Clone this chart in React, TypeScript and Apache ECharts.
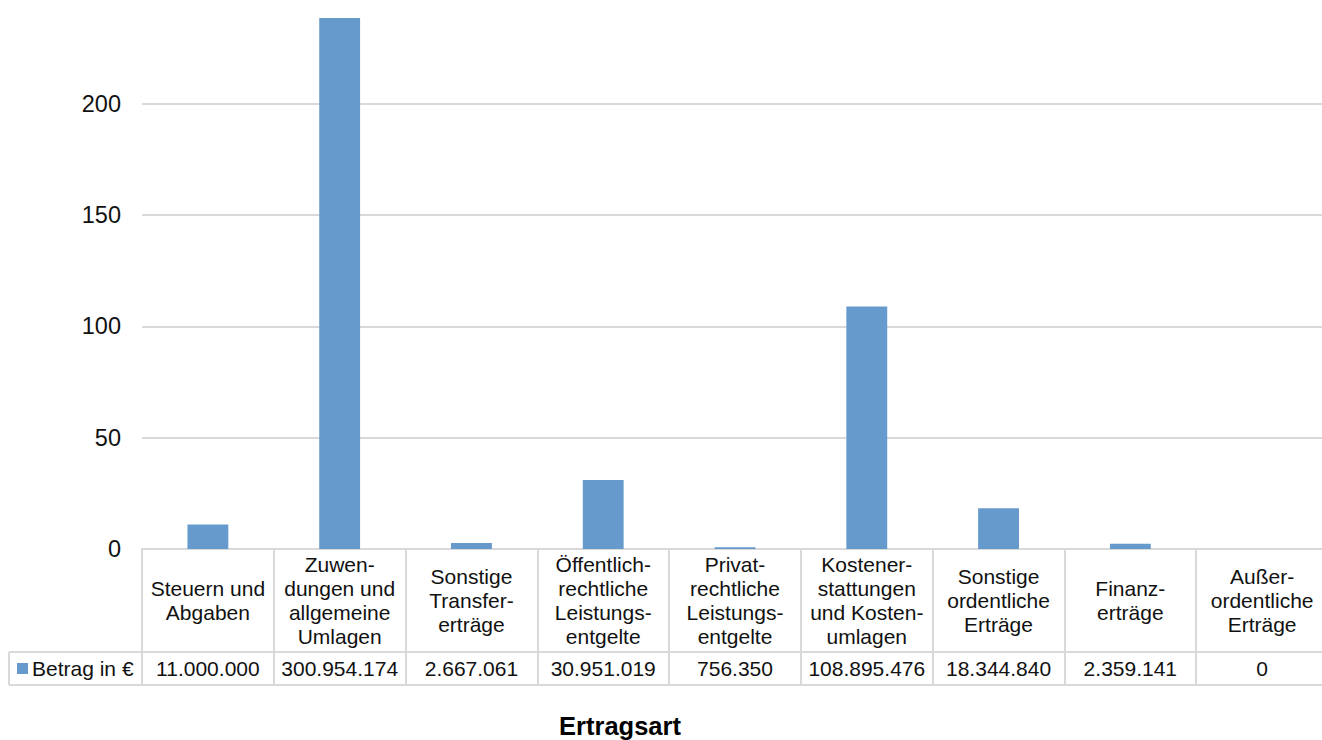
import React, { useEffect, useRef } from "react";
import * as echarts from "echarts";

// Revenue types (category labels, wrapped as they appear in the data table)
const CATEGORIES: string[] = [
  "Steuern und\nAbgaben",
  "Zuwen-\ndungen und\nallgemeine\nUmlagen",
  "Sonstige\nTransfer-\nerträge",
  "Öffentlich-\nrechtliche\nLeistungs-\nentgelte",
  "Privat-\nrechtliche\nLeistungs-\nentgelte",
  "Kostener-\nstattungen\nund Kosten-\numlagen",
  "Sonstige\nordentliche\nErträge",
  "Finanz-\nerträge",
  "Außer-\nordentliche\nErträge",
];

// Amount per revenue type, in euros
const AMOUNTS_EUR: number[] = [
  11000000, 300954174, 2667061, 30951019, 756350, 108895476, 18344840, 2359141, 0,
];

const SERIES_NAME = "Betrag in €";
const AXIS_TITLE = "Ertragsart";

// Value axis (millions of euros)
const Y_MIN = 0;
const Y_MAX = 238.5;
const Y_INTERVAL = 50;

const FONT = '"Liberation Sans", Arial, Helvetica, sans-serif';
const LINE = "#d9d9d9";
const BAR = "#6699cc";
const TEXT = "#111111";

// Layout of plot area and data table; the chart canvas runs a little past the
// visible frame so the last table column is cut at the right edge.
const VIEW_W = 1322;
const W = 1328;
const H = 740;
const PLOT_LEFT = 142;
const PLOT_TOP = 18;
const AXIS_Y = 549;
const ROW_SPLIT_Y = 652;
const TABLE_BOTTOM_Y = 685;
const TABLE_LEFT_X = 9;

const formatEuro = (v: number): string =>
  String(Math.round(v)).replace(/\B(?=(\d{3})+(?!\d))/g, ".");

export default function App() {
  const ref = useRef<HTMLDivElement | null>(null);

  useEffect(() => {
    if (!ref.current) return;
    const chart = echarts.init(ref.current, null, { renderer: "svg" });

    const headerMid = (AXIS_Y + ROW_SPLIT_Y) / 2 - AXIS_Y;
    const valueMid = (ROW_SPLIT_Y + TABLE_BOTTOM_Y) / 2 - AXIS_Y;
    const lineStyle = { stroke: LINE, lineWidth: 2 };

    chart.setOption({
      animation: false,
      textStyle: { fontFamily: FONT },
      grid: {
        left: PLOT_LEFT,
        right: 0,
        top: PLOT_TOP,
        bottom: H - AXIS_Y,
        containLabel: false,
      },
      legend: {
        data: [SERIES_NAME],
        left: 17,
        top: (ROW_SPLIT_Y + TABLE_BOTTOM_Y) / 2 - 12,
        padding: 0,
        icon: "rect",
        itemWidth: 11,
        itemHeight: 11,
        selectedMode: false,
        textStyle: {
          fontFamily: FONT,
          fontSize: 21,
          lineHeight: 24,
          color: TEXT,
          padding: [0, 0, 0, -1],
        },
      },
      xAxis: [
        {
          type: "category",
          data: CATEGORIES,
          position: "bottom",
          boundaryGap: true,
          axisLine: { show: true, lineStyle: { color: LINE, width: 2 } },
          axisTick: {
            show: true,
            interval: 0,
            alignWithLabel: false,
            length: TABLE_BOTTOM_Y - AXIS_Y,
            lineStyle: { color: LINE, width: 2 },
          },
          axisLabel: {
            interval: 0,
            margin: headerMid,
            verticalAlign: "middle",
            align: "center",
            fontFamily: FONT,
            fontSize: 21,
            lineHeight: 24,
            color: TEXT,
          },
          splitLine: { show: false },
        },
        {
          type: "category",
          data: AMOUNTS_EUR.map(formatEuro),
          position: "bottom",
          boundaryGap: true,
          axisLine: { show: false },
          axisTick: { show: false },
          axisLabel: {
            interval: 0,
            margin: valueMid,
            verticalAlign: "middle",
            align: "center",
            fontFamily: FONT,
            fontSize: 21,
            color: TEXT,
          },
          splitLine: { show: false },
        },
      ],
      yAxis: {
        type: "value",
        min: Y_MIN,
        max: Y_MAX,
        interval: Y_INTERVAL,
        axisLine: { show: false },
        axisTick: { show: false },
        axisLabel: {
          showMaxLabel: false,
          margin: 21,
          fontFamily: FONT,
          fontSize: 23.5,
          color: TEXT,
        },
        splitLine: {
          show: true,
          showMaxLine: false,
          showMinLine: false,
          lineStyle: { color: LINE, width: 2 },
        },
      },
      series: [
        {
          name: SERIES_NAME,
          type: "bar",
          xAxisIndex: 0,
          data: AMOUNTS_EUR.map((v) => v / 1e6),
          barWidth: "31%",
          itemStyle: { color: BAR },
          clip: true,
        },
      ],
      graphic: [
        {
          type: "line",
          silent: true,
          shape: { x1: TABLE_LEFT_X, y1: ROW_SPLIT_Y, x2: W, y2: ROW_SPLIT_Y },
          style: lineStyle,
        },
        {
          type: "line",
          silent: true,
          shape: { x1: TABLE_LEFT_X, y1: TABLE_BOTTOM_Y, x2: W, y2: TABLE_BOTTOM_Y },
          style: lineStyle,
        },
        {
          type: "line",
          silent: true,
          shape: { x1: TABLE_LEFT_X, y1: ROW_SPLIT_Y, x2: TABLE_LEFT_X, y2: TABLE_BOTTOM_Y },
          style: lineStyle,
        },
        {
          type: "text",
          silent: true,
          x: 620,
          y: 726,
          style: {
            text: AXIS_TITLE,
            fontFamily: FONT,
            fontSize: 25.5,
            fontWeight: "bold",
            fill: "#000",
            align: "center",
            verticalAlign: "middle",
          },
        },
      ],
    });

    return () => chart.dispose();
  }, []);

  return (
    <div
      style={{
        position: "fixed",
        left: 0,
        top: 0,
        width: VIEW_W,
        height: H,
        overflow: "hidden",
        background: "#fff",
      }}
    >
      <div ref={ref} style={{ width: W, height: H }} />
    </div>
  );
}
